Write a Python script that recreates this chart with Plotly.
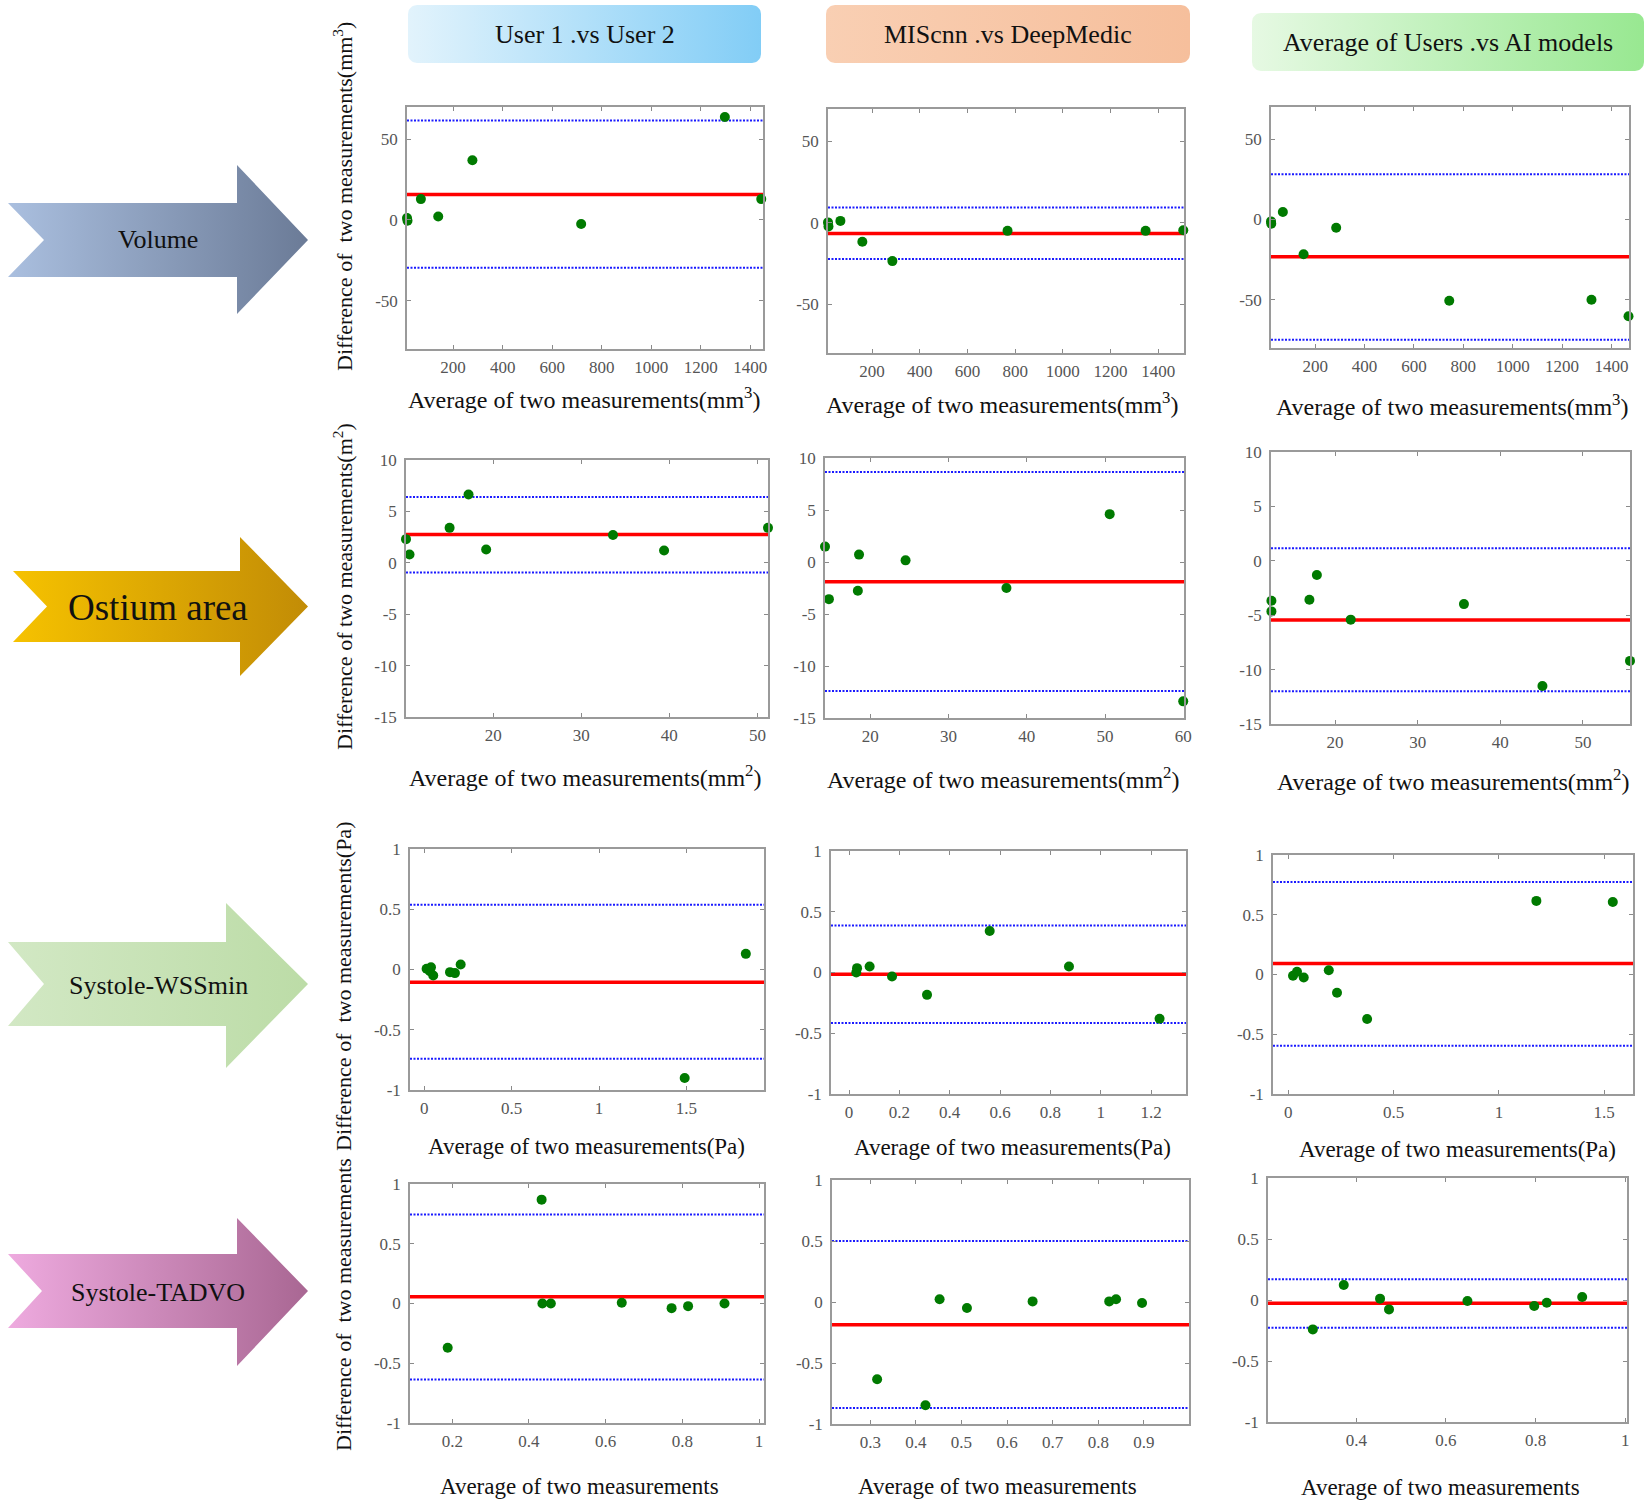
import plotly.graph_objects as go

W, H = 1650, 1504
FONT = "Liberation Serif, Times New Roman, serif"

# ---------------- text ----------------
col_titles = ["User 1 .vs User 2", "MIScnn .vs DeepMedic", "Average of Users .vs AI models"]
row_labels = ["Volume", "Ostium area", "Systole-WSSmin", "Systole-TADVO"]
x_titles = ["Average of two measurements(mm<sup>3</sup>)",
            "Average of two measurements(mm<sup>2</sup>)",
            "Average of two measurements(Pa)",
            "Average of two measurements"]
y_titles = ["Difference of\u00a0 two measurements(mm<sup>3</sup>)",
            "Difference of two measurements(m<sup>2</sup>)",
            "Difference of\u00a0 two measurements(Pa)",
            "Difference of\u00a0 two measurements"]

# ---------------- data (average, difference) ----------------
vol_users_x = [14, 16, 70, 140, 278, 717, 1297, 1444]
vol_users_y = [1.2, -0.5, 12.9, 2.1, 37.0, -2.5, 63.8, 12.9]
vol_users_stats = [15.8, 61.7, -29.6]          # mean, upper LoA, lower LoA

vol_ai_x = [15, 17, 67, 159, 285, 768, 1347, 1505]
vol_ai_y = [0.3, -2.2, 1.2, -11.6, -23.5, -4.9, -4.9, -4.5]
vol_ai_stats = [-6.5, 9.4, -22.2]

vol_avg_x = [21, 22, 69, 153, 285, 743, 1319, 1469]
vol_avg_y = [-1.2, -2.6, 4.6, -21.6, -5.2, -50.6, -50.0, -60.2]
vol_avg_stats = [-23.2, 28.2, -74.9]

ost_users_x = [10.1, 10.5, 15.05, 17.2, 19.2, 33.6, 39.4, 51.2]
ost_users_y = [2.3, 0.8, 3.4, 6.65, 1.3, 2.7, 1.2, 3.4]
ost_users_stats = [2.76, 6.4, -0.94]

ost_ai_x = [14.2, 14.7, 18.4, 18.55, 24.5, 37.4, 50.6, 60.0]
ost_ai_y = [1.48, -3.57, -2.77, 0.71, 0.16, -2.5, 4.6, -13.4]
ost_ai_stats = [-1.9, 8.65, -12.4]

ost_avg_x = [12.3, 12.3, 16.9, 17.8, 21.9, 35.6, 45.1, 55.7]
ost_avg_y = [-3.67, -4.65, -3.58, -1.31, -5.41, -3.98, -11.5, -9.2]
ost_avg_stats = [-5.44, 1.16, -12.0]

wss_users_x = [0.013, 0.032, 0.038, 0.051, 0.147, 0.175, 0.208, 1.49, 1.84]
wss_users_y = [0.006, -0.014, 0.019, -0.05, -0.022, -0.03, 0.041, -0.9, 0.13]
wss_users_stats = [-0.105, 0.537, -0.741]

wss_ai_x = [0.029, 0.032, 0.082, 0.171, 0.31, 0.559, 0.874, 1.234]
wss_ai_y = [0.0, 0.036, 0.049, -0.033, -0.184, 0.342, 0.049, -0.381]
wss_ai_stats = [-0.014, 0.386, -0.416]

wss_avg_x = [0.022, 0.041, 0.073, 0.192, 0.231, 0.374, 1.178, 1.541]
wss_avg_y = [-0.011, 0.022, -0.025, 0.036, -0.153, -0.373, 0.616, 0.607]
wss_avg_stats = [0.092, 0.774, -0.596]

tad_users_x = [0.188, 0.433, 0.435, 0.457, 0.642, 0.772, 0.815, 0.91]
tad_users_y = [-0.371, 0.869, 0.0, 0.0, 0.006, -0.039, -0.022, 0.0]
tad_users_stats = [0.056, 0.745, -0.636]

tad_ai_x = [0.315, 0.421, 0.452, 0.512, 0.656, 0.824, 0.839, 0.896]
tad_ai_y = [-0.633, -0.846, 0.022, -0.049, 0.005, 0.005, 0.022, -0.008]
tad_ai_stats = [-0.186, 0.5, -0.868]

tad_avg_x = [0.303, 0.372, 0.453, 0.473, 0.648, 0.797, 0.825, 0.904]
tad_avg_y = [-0.241, 0.123, 0.011, -0.077, -0.008, -0.049, -0.022, 0.025]
tad_avg_stats = [-0.027, 0.17, -0.227]

# axis ranges and ticks
x_ranges = [[14, 1451], [15, 1508], [21, 1471],
            [10.1, 51.2], [14.2, 60.1], [12.25, 55.7],
            [-0.082, 1.944], [-0.0715, 1.339], [-0.073, 1.637],
            [0.0897, 1.013], [0.216, 0.999], [0.203, 1.004]]
y_ranges = [[-80, 70], [-15, 10], [-1, 1], [-1, 1]]

vol_xticks = [200, 400, 600, 800, 1000, 1200, 1400]
ost_xticks_a = [20, 30, 40, 50]
ost_xticks_b = [20, 30, 40, 50, 60]
wss_xticks_a = [0, 0.5, 1, 1.5]
wss_xticks_b = [0, 0.2, 0.4, 0.6, 0.8, 1, 1.2]
tad_xticks_a = [0.2, 0.4, 0.6, 0.8, 1]
tad_xticks_b = [0.3, 0.4, 0.5, 0.6, 0.7, 0.8, 0.9]
tad_xticks_c = [0.4, 0.6, 0.8, 1]
x_ticks = [vol_xticks, vol_xticks, vol_xticks,
           ost_xticks_a, ost_xticks_b, ost_xticks_a,
           wss_xticks_a, wss_xticks_b, wss_xticks_a,
           tad_xticks_a, tad_xticks_b, tad_xticks_c]
y_ticks = [[-50, 0, 50], [-15, -10, -5, 0, 5, 10],
           [-1, -0.5, 0, 0.5, 1], [-1, -0.5, 0, 0.5, 1]]

panels = [
    (vol_users_x, vol_users_y, vol_users_stats), (vol_ai_x, vol_ai_y, vol_ai_stats), (vol_avg_x, vol_avg_y, vol_avg_stats),
    (ost_users_x, ost_users_y, ost_users_stats), (ost_ai_x, ost_ai_y, ost_ai_stats), (ost_avg_x, ost_avg_y, ost_avg_stats),
    (wss_users_x, wss_users_y, wss_users_stats), (wss_ai_x, wss_ai_y, wss_ai_stats), (wss_avg_x, wss_avg_y, wss_avg_stats),
    (tad_users_x, tad_users_y, tad_users_stats), (tad_ai_x, tad_ai_y, tad_ai_stats), (tad_avg_x, tad_avg_y, tad_avg_stats),
]

# ---------------- layout geometry (pixels: left, right, top, bottom) ----------------
boxes = [(407, 763, 107, 349), (828, 1184, 109, 353), (1271, 1629, 107, 348),
         (406, 768, 460, 717), (825, 1184, 458, 718), (1271, 1630, 452, 724),
         (410, 764, 849, 1090), (831, 1186, 851, 1094), (1273, 1633, 855, 1094),
         (410, 764, 1184, 1423), (832, 1189, 1180, 1424), (1268, 1627, 1178, 1422)]


def fmt(v):
    return "%g" % v


fig = go.Figure()
layout = dict(template="none", width=W, height=H,
              margin=dict(l=0, r=0, t=0, b=0, pad=0, autoexpand=False),
              paper_bgcolor="white", plot_bgcolor="rgba(0,0,0,0)", showlegend=False,
              annotations=[])

axis_common = dict(showgrid=False, zeroline=False, showline=True, linecolor="#9a9a9a", linewidth=1.5,
                   mirror="ticks", ticks="inside", ticklen=4, tickwidth=1, tickcolor="#8a8a8a",
                   automargin=False, tickfont=dict(family=FONT, size=17, color="#555555"))

# decorations axis first (drawn underneath)
layout["xaxis"] = dict(domain=[0, 1], range=[0, W], visible=False, fixedrange=True, anchor="y",
                       automargin=False)
layout["yaxis"] = dict(domain=[0, 1], range=[H, 0], visible=False, fixedrange=True, anchor="x",
                       automargin=False)

for k, (px, py, st) in enumerate(panels):
    r, c = divmod(k, 3)
    l, rr, t, b = boxes[k]
    n = k + 2
    xn, yn, xa, ya = f"xaxis{n}", f"yaxis{n}", f"x{n}", f"y{n}"
    xr = x_ranges[k]
    yr = y_ranges[r]
    layout[xn] = dict(axis_common, domain=[l / W, rr / W], anchor=ya, range=xr,
                      tickvals=x_ticks[k], ticktext=[fmt(v) for v in x_ticks[k]], ticklabelstandoff=2)
    layout[yn] = dict(axis_common, domain=[1 - b / H, 1 - t / H], anchor=xa, range=yr,
                      tickvals=y_ticks[r], ticktext=[fmt(v) for v in y_ticks[r]], ticklabelstandoff=4)
    mean, up, lo = st
    for v in (up, lo):
        fig.add_trace(go.Scatter(x=xr, y=[v, v], mode="lines", xaxis=xa, yaxis=ya,
                                 line=dict(color="#1a1aff", width=2, dash="2px,1.5px"), hoverinfo="skip"))
    fig.add_trace(go.Scatter(x=xr, y=[mean, mean], mode="lines", xaxis=xa, yaxis=ya,
                             line=dict(color="#ff0000", width=3.5), hoverinfo="skip"))
    fig.add_trace(go.Scatter(x=px, y=py, mode="markers", xaxis=xa, yaxis=ya, cliponaxis=False,
                             marker=dict(color="#007a00", size=10, line=dict(width=0))))


def rounded_rect(x0, x1, y0, y1, rad, n=8):
    import math
    pts = []
    corners = [(x1 - rad, y0 + rad, -90, 0), (x1 - rad, y1 - rad, 0, 90),
               (x0 + rad, y1 - rad, 90, 180), (x0 + rad, y0 + rad, 180, 270)]
    for cx, cy, a0, a1 in corners:
        for i in range(n + 1):
            a = math.radians(a0 + (a1 - a0) * i / n)
            pts.append((cx + rad * math.cos(a), cy + rad * math.sin(a)))
    pts.append(pts[0])
    return [p[0] for p in pts], [p[1] for p in pts]


def arrow(xl, notch, shaft_t, shaft_b, head_x, head_t, head_b, tip):
    cy = (shaft_t + shaft_b) / 2
    xs = [xl, head_x, head_x, tip, head_x, head_x, xl, notch, xl]
    ys = [shaft_t, shaft_t, head_t, cy, head_b, shaft_b, shaft_b, cy, shaft_t]
    return xs, ys


header_boxes = [(408, 761, 5, 63, ["#e2f3fc", "#82cdf6"]),
                (826, 1190, 5, 63, ["#f9cfb3", "#f6bf9c"]),
                (1252, 1644, 13, 71, ["#e6f9e3", "#98e891"])]
for (x0, x1, y0, y1, cs), txt in zip(header_boxes, col_titles):
    xs, ys = rounded_rect(x0, x1, y0, y1, 9)
    fig.add_trace(go.Scatter(x=xs, y=ys, xaxis="x", yaxis="y", mode="lines", fill="toself",
                             line=dict(width=0), hoverinfo="skip",
                             fillgradient=dict(type="horizontal", colorscale=[[0, cs[0]], [1, cs[1]]])))
    layout["annotations"].append(
        dict(text=txt, x=(x0 + x1) / 2 / W, y=1 - (y0 + y1) / 2 / H, xref="paper", yref="paper",
             showarrow=False, xanchor="center", yanchor="middle",
             font=dict(family=FONT, size=26, color="#111111")))

arrows = [((8, 44, 203, 277, 237, 165, 314, 308), ["#aabfdf", "#6b7b97"], 26, 240),
          ((13, 47, 571, 642, 240, 537, 676, 308), ["#f6c200", "#c28c06"], 37, 607),
          ((8, 44, 942, 1026, 226, 903, 1068, 308), ["#d2e8c4", "#bcdca7"], 26, 985),
          ((8, 42, 1254, 1328, 237, 1218, 1366, 308), ["#eeaadf", "#a96793"], 26, 1292)]
for (geo, cs, fs, cy), lab in zip(arrows, row_labels):
    xs, ys = arrow(*geo)
    fig.add_trace(go.Scatter(x=xs, y=ys, xaxis="x", yaxis="y", mode="lines", fill="toself",
                             line=dict(width=0), hoverinfo="skip",
                             fillgradient=dict(type="horizontal", colorscale=[[0, cs[0]], [1, cs[1]]])))
    layout["annotations"].append(
        dict(text=lab, x=158 / W, y=1 - cy / H, xref="paper", yref="paper", showarrow=False,
             xanchor="center", yanchor="middle", font=dict(family=FONT, size=fs, color="#111111")))

# axis titles
xtitle_pos = [[(584, 398), (1002, 403), (1452, 405)],
              [(585, 776), (1003, 778), (1453, 780)],
              [(586, 1146), (1013, 1147), (1457, 1149)],
              [(579, 1486), (997, 1486), (1440, 1487)]]
xtitle_size = [24, 24, 23, 23]
for r in range(4):
    for (cx, cy) in xtitle_pos[r]:
        layout["annotations"].append(
            dict(text=x_titles[r], x=cx / W, y=1 - cy / H, xref="paper", yref="paper", showarrow=False,
                 xanchor="center", yanchor="middle",
                 font=dict(family=FONT, size=xtitle_size[r], color="#111111")))

ytitle_pos = [(343, 197), (343, 587), (343, 987), (343, 1305)]
for r, (cx, cy) in enumerate(ytitle_pos):
    layout["annotations"].append(
        dict(text=y_titles[r], x=cx / W, y=1 - cy / H, xref="paper", yref="paper", showarrow=False,
             textangle=-90, xanchor="center", yanchor="middle",
             font=dict(family=FONT, size=22, color="#111111")))

fig.update_layout(**layout)
fig.write_html("out.html", config={"displayModeBar": False},
               post_script="document.body.style.margin='0px';")
